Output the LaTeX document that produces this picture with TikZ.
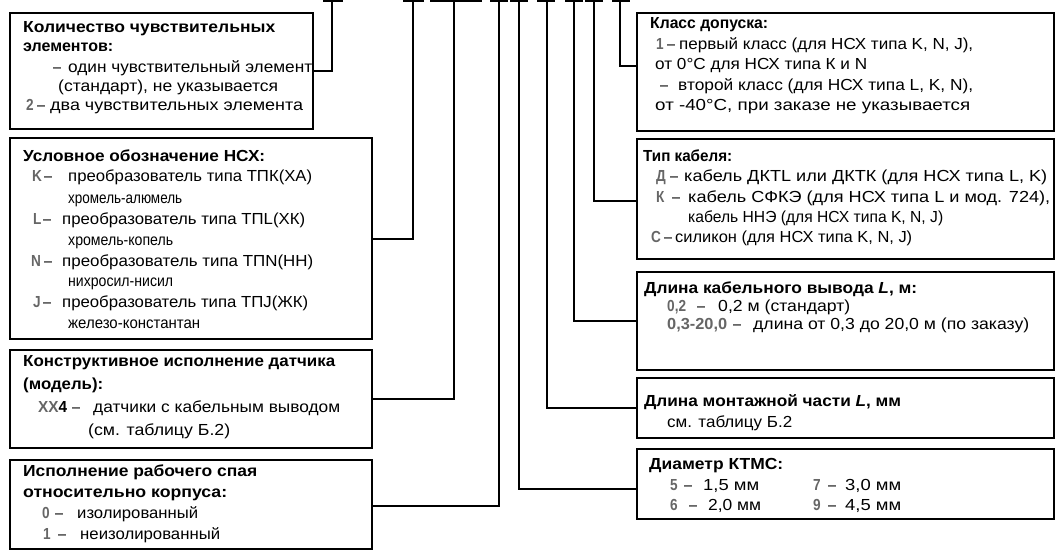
\documentclass[tikz,border=0pt]{standalone}
\usepackage{fontspec}
\setmainfont{Liberation Sans}
\usepackage{graphicx}
\usetikzlibrary{fit}
\colorlet{dig}{black!60}
\newlength\fwtmp
\newcounter{tn}
\newcommand\fw[2]{\settowidth\fwtmp{#2}\pgfmathsetmacro\fwrat{#1/\fwtmp}\scalebox{\fwrat}[1]{#2}}
% text line: x, y, target width, text
\newcommand\tl[4]{\stepcounter{tn}\node[txt] (tx\arabic{tn}) at (#1,#2) {\fw{#3}{#4}};}
% natural text: x, y, text
\newcommand\tn[3]{\stepcounter{tn}\node[txt] (tx\arabic{tn}) at (#1,#2) {\scalebox{0.9}[1]{#3}};}
\newcommand\dg[3]{\stepcounter{tn}\node[txt,text=dig] (tx\arabic{tn}) at (#1,#2) {\scalebox{0.85}[1]{\bfseries #3}};}
\tikzset{
  box/.style={draw, line width=2.4pt, inner sep=0pt},
  conn/.style={line width=2pt},
  tickbar/.style={line width=2.6pt},
  txt/.style={anchor=base west, inner sep=0pt, font=\fontsize{16}{19}\selectfont}
}
\begin{document}
\begin{tikzpicture}[x=1pt,y=-1pt]
\useasboundingbox (0,0) rectangle (1056,556);
% boxes
\node[box, fit={(10,13) (313,129)}] (L1) {};
\node[box, fit={(10,138) (372,339)}] (L2) {};
\node[box, fit={(10,350) (372,448)}] (L3) {};
\node[box, fit={(10,460) (372,549)}] (L4) {};
\node[box, fit={(637,13) (1054,131)}] (R1) {};
\node[box, fit={(637,139) (1054,259)}] (R2) {};
\node[box, fit={(637,272) (1054,370)}] (R3) {};
\node[box, fit={(637,378) (1054,438)}] (R5) {};
\node[box, fit={(637,449) (1054,519)}] (R6) {};
% tick tops
\coordinate (t1) at (332,1.2);
\coordinate (t2) at (413,1.2);
\coordinate (t2b) at (454,1.2);
\coordinate (t3) at (499,1.2);
\coordinate (t4) at (519,1.2);
\coordinate (t5) at (547,1.2);
\coordinate (t6) at (574,1.2);
\coordinate (t7) at (594,1.2);
\coordinate (t8) at (620,1.2);
\draw[tickbar] ([xshift=-9pt]t1) -- ([xshift=11pt]t1);
\draw[tickbar] ([xshift=-10pt]t2) -- ([xshift=11pt]t2);
\draw[tickbar] ([xshift=-24pt]t2b) -- ([xshift=28pt]t2b);
\draw[tickbar] ([xshift=-9pt]t3) -- ([xshift=9pt]t3);
\draw[tickbar] ([xshift=-9pt]t4) -- ([xshift=9pt]t4);
\draw[tickbar] ([xshift=-10pt]t5) -- ([xshift=8pt]t5);
\draw[tickbar] ([xshift=-9pt]t6) -- ([xshift=9pt]t6);
\draw[tickbar] ([xshift=-9pt]t7) -- ([xshift=9pt]t7);
\draw[tickbar] ([xshift=-8pt]t8) -- ([xshift=10pt]t8);
% connectors
\draw[conn] (t1) |- (L1.east);
\draw[conn] (t2) |- (L2.east);
\draw[conn] (t2b) |- (L3.east);
\draw[conn] (t3) |- ([yshift=-1.5pt]L4.east);
\draw[conn] (t4) |- ([yshift=-5pt]R6.west);
\draw[conn] (t5) |- (R5.west);
\draw[conn] (t6) |- (R3.west);
\draw[conn] (t7) |- ([yshift=-2pt]R2.west);
\draw[conn] (t8) |- ([yshift=6pt]R1.west);
% ---- L1
\tl{23}{33}{252}{\bfseries Количество чувствительных}
\tl{23}{52}{90}{\bfseries элементов:}
\tn{53}{73}{–}
\tl{68}{73}{244}{один чувствительный элемент}
\tl{58}{92}{220}{(стандарт), не указывается}
\dg{26}{111}{2}
\tn{37}{111}{–}
\tl{50}{111}{253}{два чувствительных элемента}
% ---- L2
\tl{23}{161}{242}{\bfseries Условное обозначение НСХ:}
\dg{32}{182}{K}
\tn{44}{182}{–}
\tl{68}{182}{244}{преобразователь типа ТПК(ХА)}
\tl{68}{203}{114}{хромель-алюмель}
\dg{33}{224}{L}
\tn{43}{224}{–}
\tl{62}{224}{243}{преобразователь типа ТПL(ХК)}
\tl{68}{245}{105}{хромель-копель}
\dg{31}{266}{N}
\tn{44}{266}{–}
\tl{62}{266}{251}{преобразователь типа ТПN(НН)}
\tl{68}{286}{105}{нихросил-нисил}
\dg{33}{307}{J}
\tn{43}{307}{–}
\tl{62}{307}{246}{преобразователь типа ТПJ(ЖК)}
\tl{68}{328}{132}{железо-константан}
% ---- L3
\tl{23}{366}{312}{\bfseries Конструктивное исполнение датчика}
\tl{23}{389}{80}{\bfseries (модель):}
\tl{38}{412}{29}{\bfseries\textcolor{dig}{XX}4}
\tn{72}{412}{–}
\tl{93}{412}{247}{датчики с кабельным выводом}
\tl{88}{435}{142}{(см. таблицу Б.2)}
% ---- L4
\tl{23}{476}{234}{\bfseries Исполнение рабочего спая}
\tl{23}{497}{204}{\bfseries относительно корпуса:}
\dg{42}{518}{0}
\tn{55}{518}{–}
\tl{77}{518}{121}{изолированный}
\dg{43}{539}{1}
\tn{58}{539}{–}
\tl{80}{539}{140}{неизолированный}
% ---- R1
\tl{650}{29}{118}{\bfseries Класс допуска:}
\dg{656}{50}{1}
\tn{667}{50}{–}
\tl{679}{50}{294}{первый класс (для НСХ типа K, N, J),}
\tl{655}{70}{212}{от 0°C для НСХ типа К и N}
\tn{660}{91}{–}
\tl{678}{91}{295}{второй класс (для НСХ типа L, K, N),}
\tl{655}{111}{315}{от -40°C, при заказе не указывается}
% ---- R2
\tl{643}{162}{89}{\bfseries Тип кабеля:}
\dg{656}{182}{Д}
\tn{670}{182}{–}
\tl{684}{182}{363}{кабель ДКТL или ДКТК (для НСХ типа L, K)}
\dg{656}{202}{К}
\tn{672}{202}{–}
\tl{688}{202}{362}{кабель СФКЭ (для НСХ типа L и мод. 724),}
\tl{688}{222}{255}{кабель ННЭ (для НСХ типа K, N, J)}
\dg{651}{242}{С}
\tn{664}{242}{–}
\tl{675}{242}{237}{силикон (для НСХ типа K, N, J)}
% ---- R3
\tl{644}{293}{273}{\bfseries Длина кабельного вывода \textit{L}, м:}
\dg{667}{311}{0,2}
\tn{697}{311}{–}
\tl{718}{311}{132}{0,2 м (стандарт)}
\stepcounter{tn}\node[txt,text=dig] (tx\arabic{tn}) at (667,329) {\fw{60}{\bfseries 0,3-20,0}};
\tn{733}{329}{–}
\tl{753}{329}{276}{длина от 0,3 до 20,0 м (по заказу)}
% ---- R5
\tl{644}{406}{257}{\bfseries Длина монтажной части \textit{L}, мм}
\tl{667}{427}{125}{см. таблицу Б.2}
% ---- R6
\tl{649}{469}{134}{\bfseries Диаметр КТМС:}
\dg{670}{490}{5}
\tn{684}{490}{–}
\tl{703}{490}{56}{1,5 мм}
\dg{813}{490}{7}
\tn{828}{490}{–}
\tl{845}{490}{56}{3,0 мм}
\dg{670}{510}{6}
\tn{689}{510}{–}
\tl{708}{510}{53}{2,0 мм}
\dg{813}{510}{9}
\tn{828}{510}{–}
\tl{845}{510}{56}{4,5 мм}
\end{tikzpicture}
\end{document}
